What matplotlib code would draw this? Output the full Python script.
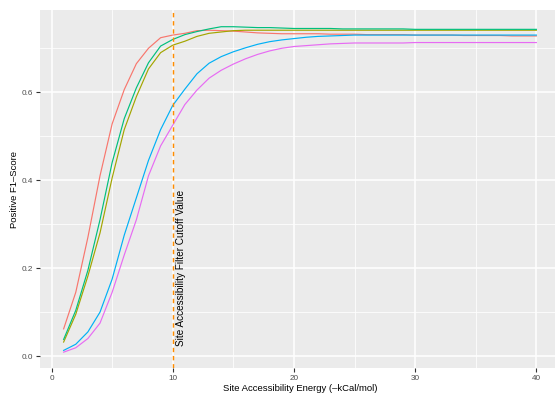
import numpy as np
import matplotlib
matplotlib.use("Agg")
import matplotlib.pyplot as plt
from matplotlib.ticker import FixedLocator

plt.rcParams['font.family'] = ['Liberation Sans', 'DejaVu Sans']

energy = list(range(1, 41))

red = [0.062, 0.145, 0.27, 0.41, 0.528, 0.606, 0.665, 0.70, 0.724, 0.730,
       0.734, 0.740, 0.741, 0.740, 0.739, 0.737, 0.735, 0.734, 0.733, 0.733,
       0.733, 0.733, 0.732, 0.732, 0.732, 0.731, 0.731, 0.731, 0.731, 0.730,
       0.730, 0.730, 0.730, 0.729, 0.729, 0.729, 0.729, 0.728, 0.728, 0.728]
yellow = [0.032, 0.095, 0.182, 0.28, 0.405, 0.515, 0.59, 0.653, 0.69, 0.707,
          0.716, 0.727, 0.734, 0.737, 0.740, 0.741, 0.741, 0.741, 0.741, 0.741,
          0.741, 0.741, 0.741, 0.741, 0.741, 0.741, 0.741, 0.741, 0.741, 0.741,
          0.741, 0.741, 0.741, 0.741, 0.741, 0.741, 0.741, 0.741, 0.741, 0.741]
green = [0.038, 0.104, 0.195, 0.31, 0.44, 0.54, 0.61, 0.667, 0.705, 0.720,
         0.731, 0.738, 0.744, 0.749, 0.749, 0.748, 0.747, 0.747, 0.746, 0.745,
         0.745, 0.745, 0.745, 0.744, 0.744, 0.744, 0.744, 0.744, 0.744, 0.743,
         0.743, 0.743, 0.743, 0.743, 0.743, 0.743, 0.743, 0.743, 0.743, 0.743]
blue = [0.013, 0.027, 0.055, 0.10, 0.175, 0.275, 0.36, 0.445, 0.515, 0.57,
        0.607, 0.642, 0.666, 0.681, 0.692, 0.701, 0.709, 0.715, 0.719, 0.722,
        0.725, 0.727, 0.728, 0.729, 0.730, 0.730, 0.730, 0.730, 0.730, 0.730,
        0.730, 0.730, 0.730, 0.730, 0.730, 0.730, 0.730, 0.730, 0.730, 0.730]
pink = [0.009, 0.019, 0.04, 0.075, 0.145, 0.23, 0.31, 0.41, 0.478, 0.525,
        0.572, 0.605, 0.632, 0.650, 0.664, 0.676, 0.686, 0.694, 0.700, 0.704,
        0.706, 0.708, 0.710, 0.711, 0.712, 0.712, 0.712, 0.712, 0.712, 0.713,
        0.713, 0.713, 0.713, 0.713, 0.713, 0.713, 0.713, 0.713, 0.713, 0.713]

series = [red, yellow, green, blue, pink]
colors = ['#F8766D', '#A3A500', '#00BF7D', '#00B0F6', '#E76BF3']

cutoff = 10
cutoff_label = "Site Accessibility Filter Cutoff Value"
x_ticks = [0, 10, 20, 30, 40]
y_ticks = [0.0, 0.2, 0.4, 0.6]
y_ticklabels = ["0.0", "0.2", "0.4", "0.6"]

fig = plt.figure(figsize=(5.55, 3.95), dpi=100)
# panel extends slightly past the right edge of the image (cropped reference)
ax = fig.add_axes([40/555, 1-368/395, (560-40)/555, (368-10)/395])
ax.set_facecolor('#EBEBEB')
for s in ax.spines.values():
    s.set_visible(False)

ax.set_xlim(-0.95, 41.95)
ax.set_ylim(-0.027, 0.787)
ax.xaxis.set_major_locator(FixedLocator(x_ticks))
ax.xaxis.set_minor_locator(FixedLocator([5, 15, 25, 35]))
ax.yaxis.set_major_locator(FixedLocator(y_ticks))
ax.yaxis.set_minor_locator(FixedLocator([0.1, 0.3, 0.5, 0.7]))
ax.set_yticklabels(y_ticklabels)
ax.grid(which='major', color='white', linewidth=1.1)
ax.grid(which='minor', color='white', linewidth=0.55)
ax.set_axisbelow(True)
ax.tick_params(which='major', length=2.75, width=0.8, color='#333333',
               labelcolor='#4D4D4D', labelsize=5.9, pad=2)
ax.tick_params(which='minor', length=0)

for ys, c in zip(series, colors):
    ax.plot(energy, ys, color=c, linewidth=0.85)

ax.axvline(cutoff, color='#FF8C00', linestyle=(0, (3.0, 2.6)), linewidth=1.05)
ax.text(cutoff + 0.65, 0.2, cutoff_label, rotation=90, ha='center', va='center',
        fontsize=7.2, color='black')

ax.set_xlabel("Site Accessibility Energy (\u2013kCal/mol)", fontsize=6.8, labelpad=1.5)
ax.set_ylabel("Positive F1\u2013Score", fontsize=6.8, labelpad=2)

fig.savefig("out.png", dpi=100)
